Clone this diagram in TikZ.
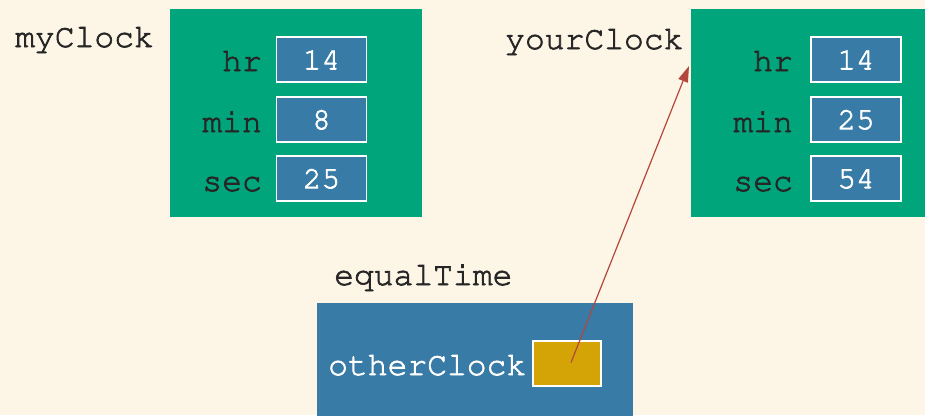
\documentclass[tikz,border=0pt]{standalone}
\usepackage{fontspec}
\setmonofont{Liberation Mono}
\usetikzlibrary{arrows.meta,calc}
\newcommand\courfont{\fontencoding{T1}\fontfamily{pcr}\selectfont}
\newcommand\thickon{\special{pdf:literal direct 2 Tr 0.7 w}}
\newcommand\thickoff{\special{pdf:literal direct 0 Tr}}
\definecolor{bg}{HTML}{FDF5E5}
\definecolor{clockgreen}{HTML}{00A57B}
\definecolor{cellblue}{HTML}{377BA6}
\definecolor{refyellow}{HTML}{D4A406}
\definecolor{arrowred}{HTML}{B3473B}
\definecolor{ink}{HTML}{262626}
\tikzset{
  heavytext/.style={execute at begin node=\thickon, execute at end node=\thickoff},
  clockbox/.style={fill=clockgreen, draw=none, minimum width=252pt, minimum height=208pt, inner sep=0pt},
  cell/.style={fill=cellblue, draw=white, line width=1.3pt, minimum width=90pt, minimum height=45pt, inner sep=0pt, text=white, heavytext, font=\courfont\fontsize{31}{31}\selectfont},
  lab/.style={anchor=base east, inner sep=0pt, text=ink, heavytext, font=\courfont\fontsize{33}{33}\selectfont},
  varname/.style={anchor=base west, inner sep=0pt, text=ink, heavytext, font=\courfont\fontsize{33}{33}\selectfont},
  paramsbox/.style={fill=cellblue, draw=none, minimum width=316pt, minimum height=130pt, inner sep=0pt},
  refbox/.style={fill=refyellow, draw=white, line width=1.3pt, minimum width=68pt, minimum height=45pt, inner sep=0pt},
  ptr/.style={arrowred, line width=1.2pt, -{Triangle[length=16pt,width=10pt]}}
}
\begin{document}
\begin{tikzpicture}[x=1pt,y=-1pt]
\useasboundingbox (0,0) rectangle (925,415);
\fill[bg] (0,0) rectangle (925,415);
% myClock
\node[clockbox] (my) at (295.5,113) {};
\node[varname] (myname) at (15,47) {myClock};
\node[cell] (myhr) at (321.5,59.5) {14};
\node[cell] (mymin) at (321.5,119.5) {8};
\node[cell] (mysec) at (321.5,178.5) {25};
\node[lab] (myhrl) at (262,71) {hr};
\node[lab] (myminl) at (262,132) {min};
\node[lab] (mysecl) at (262,191) {sec};
% yourClock
\node[clockbox] (your) at (817,113) {};
\node[varname] (yourname) at (505,49) {yourClock};
\node[cell] (yourhr) at (856,59.5) {14};
\node[cell] (yourmin) at (856,119.5) {25};
\node[cell] (yoursec) at (856,178.5) {54};
\node[lab] (yourhrl) at (793,71) {hr};
\node[lab] (yourminl) at (793,132) {min};
\node[lab] (yoursecl) at (793,191) {sec};
% equalTime
\node[paramsbox] (eq) at (475,368) {};
\node[varname] (eqname) at (334,285) {equalTime};
\node[varname, text=white] (other) at (328,375) {otherClock};
\node[refbox] (yel) at (567,363.5) {};
\coordinate (tip) at (689,66);
\draw[ptr] ($(yel.center)+(4,-1)$) -- (tip);
\end{tikzpicture}
\end{document}
